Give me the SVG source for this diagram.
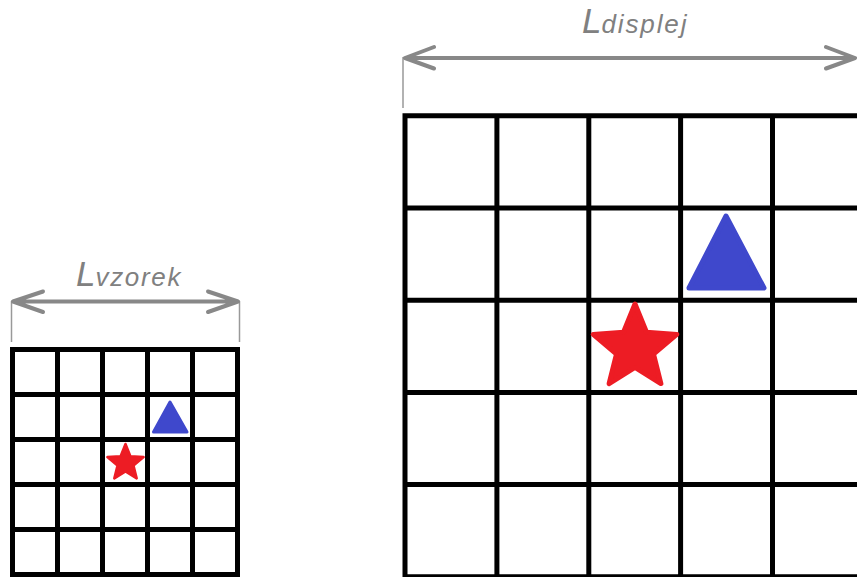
<svg xmlns="http://www.w3.org/2000/svg" width="857" height="577" viewBox="0 0 857 577">
<style>
.grid{fill:none;stroke:#000;stroke-width:5;stroke-linecap:square}
.dim{fill:none;stroke:#888;stroke-width:4;stroke-linecap:round;stroke-linejoin:round}
.tick{fill:none;stroke:#999;stroke-width:1.5}
.lbl{font-family:"Liberation Sans",Arial,sans-serif;font-style:italic;fill:#808080}
.big{font-size:35px}
.sub{font-size:26px}
.star{fill:#ED1C24;stroke:#ED1C24;stroke-linejoin:round}
.tri{fill:#3F48CC;stroke:#3F48CC;stroke-linejoin:round}
</style>
<rect width="857" height="577" fill="#fff"/>
<g id="connectors">
<line class="tick" x1="11.5" y1="301" x2="11.5" y2="342"/>
<line class="tick" x1="239.5" y1="301" x2="239.5" y2="342"/>
<path class="dim" d="M13,301.5 H238 M43,291.5 L13,301.5 L43,312 M208,291.5 L238,301.5 L208,312"/>
<line class="tick" x1="403" y1="57" x2="403" y2="108"/>
<path class="dim" d="M405,58 H855 M434,47 L405,58 L434,68.5 M826,47 L855,58 L826,68.5"/>
</g>
<g id="label-vzorek">
<text class="lbl" x="76" y="286"><tspan class="big">L</tspan><tspan class="sub" textLength="85" lengthAdjust="spacing">vzorek</tspan></text>
</g>
<g id="label-displej">
<text class="lbl" x="582" y="33"><tspan class="big">L</tspan><tspan class="sub" textLength="85" lengthAdjust="spacing">displej</tspan></text>
</g>
<g id="grid-small">
<rect class="grid" x="12.5" y="349.5" width="225" height="225"/>
<path class="grid" d="M57.5,349.5V574.5M102.5,349.5V574.5M147.5,349.5V574.5M192.5,349.5V574.5M12.5,394.5H237.5M12.5,439.5H237.5M12.5,484.5H237.5M12.5,529.5H237.5"/>
</g>
<g id="grid-large">
<path class="grid" d="M405,115.8V590M496.9,115.8V590M588.8,115.8V590M680.6,115.8V590M772.5,115.8V590M405,115.8H870M405,208H870M405,300.2H870M405,392.4H870M405,484.6H870M405,576.8H870"/>
</g>
<g id="star-small">
<polygon class="star" stroke-width="2.5" points="125.5,444 130.4,456.2 143.6,457.1 133.5,465.6 136.7,478.4 125.5,471.4 114.3,478.4 117.5,465.6 107.4,457.1 120.6,456.2"/>
</g>
<g id="triangle-small">
<polygon class="tri" stroke-width="3" points="170,402 187,432 153.5,432"/>
</g>
<g id="star-large">
<polygon class="star" stroke-width="5" points="635,304 646.5,332.2 676.8,334.4 653.5,354 660.9,383.6 635,367.5 609.1,383.6 616.5,354 593.2,334.4 623.5,332.2"/>
</g>
<g id="triangle-large">
<polygon class="tri" stroke-width="5" points="726,216 764,288 689,288"/>
</g>
</svg>
